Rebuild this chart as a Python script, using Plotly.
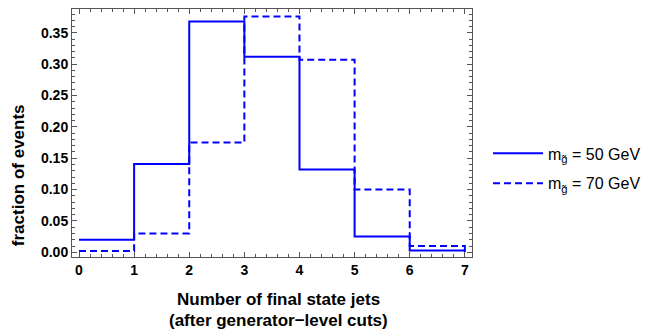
import plotly.graph_objects as go

bin_edges = [0, 1, 2, 3, 4, 5, 6, 7]
frac_50 = [0.020, 0.141, 0.368, 0.312, 0.132, 0.025, 0.003]
frac_70 = [0.002, 0.030, 0.175, 0.376, 0.307, 0.100, 0.010]
labels = ["m<sub>g\u0303</sub> = 50 GeV", "m<sub>g\u0303</sub> = 70 GeV"]
x_ticks = [0, 1, 2, 3, 4, 5, 6, 7]
y_ticks = [0.00, 0.05, 0.10, 0.15, 0.20, 0.25, 0.30, 0.35]


def step_xy(edges, vals):
    xs, ys = [], []
    for i, v in enumerate(vals):
        xs += [edges[i], edges[i + 1]]
        ys += [v, v]
    xs.append(edges[-1])
    ys.append(0)
    return xs, ys


fig = go.Figure()
for i, (vals, name, dash) in enumerate([(frac_50, labels[0], "solid"), (frac_70, labels[1], "7px,4px")]):
    xs, ys = step_xy(bin_edges, vals)
    fig.add_trace(go.Scatter(x=xs, y=ys, mode="lines", name=name, legendgroup=f"g{i}",
                             line=dict(color="#0000ff", width=2, dash=dash)))

axis_common = dict(showline=True, linecolor="#555", linewidth=1, mirror="ticks",
                   ticks="inside", ticklen=5, tickcolor="#555", showgrid=False,
                   zeroline=False,
                   tickfont=dict(family="Liberation Sans", size=14, color="black", weight="bold"))

fig.update_xaxes(range=[-0.127, 7.13], tickvals=x_ticks,
                 ticktext=[str(t) for t in x_ticks],
                 minor=dict(ticks="inside", ticklen=3, dtick=0.2, tick0=0, tickcolor="#555"),
                 **axis_common)
fig.update_yaxes(range=[-0.0075, 0.388], tickvals=y_ticks,
                 ticktext=[f"{t:.2f}" for t in y_ticks],
                 minor=dict(ticks="inside", ticklen=3, dtick=0.01, tick0=0, tickcolor="#555"),
                 **axis_common)

fig.update_layout(
    width=664, height=335,
    margin=dict(l=72, r=192, t=9, b=78),
    paper_bgcolor="white", plot_bgcolor="white",
    font=dict(family="Liberation Sans", color="black"),
    legend=dict(x=1.04, y=0.357, xanchor="left", yanchor="middle", itemwidth=50,
                font=dict(size=16, family="Liberation Sans", color="black"),
                tracegroupgap=6, bgcolor="rgba(0,0,0,0)"),
    annotations=[
        dict(text="<b>fraction of events</b>", textangle=-90, xref="paper", yref="paper",
             x=-0.135, y=0.33, xanchor="center", yanchor="middle", showarrow=False,
             font=dict(size=17, family="Liberation Sans")),
        dict(text="<b>Number of final state jets</b>", xref="paper", yref="paper",
             x=0.515, y=-0.17, xanchor="center", yanchor="middle", showarrow=False,
             font=dict(size=17, family="Liberation Sans")),
        dict(text="<b>(after generator\u2212level cuts)</b>", xref="paper", yref="paper",
             x=0.515, y=-0.258, xanchor="center", yanchor="middle", showarrow=False,
             font=dict(size=17, family="Liberation Sans")),
    ],
)

fig.write_html("out.html", config={"displayModeBar": False},
               post_script="document.body.style.margin='0';")
